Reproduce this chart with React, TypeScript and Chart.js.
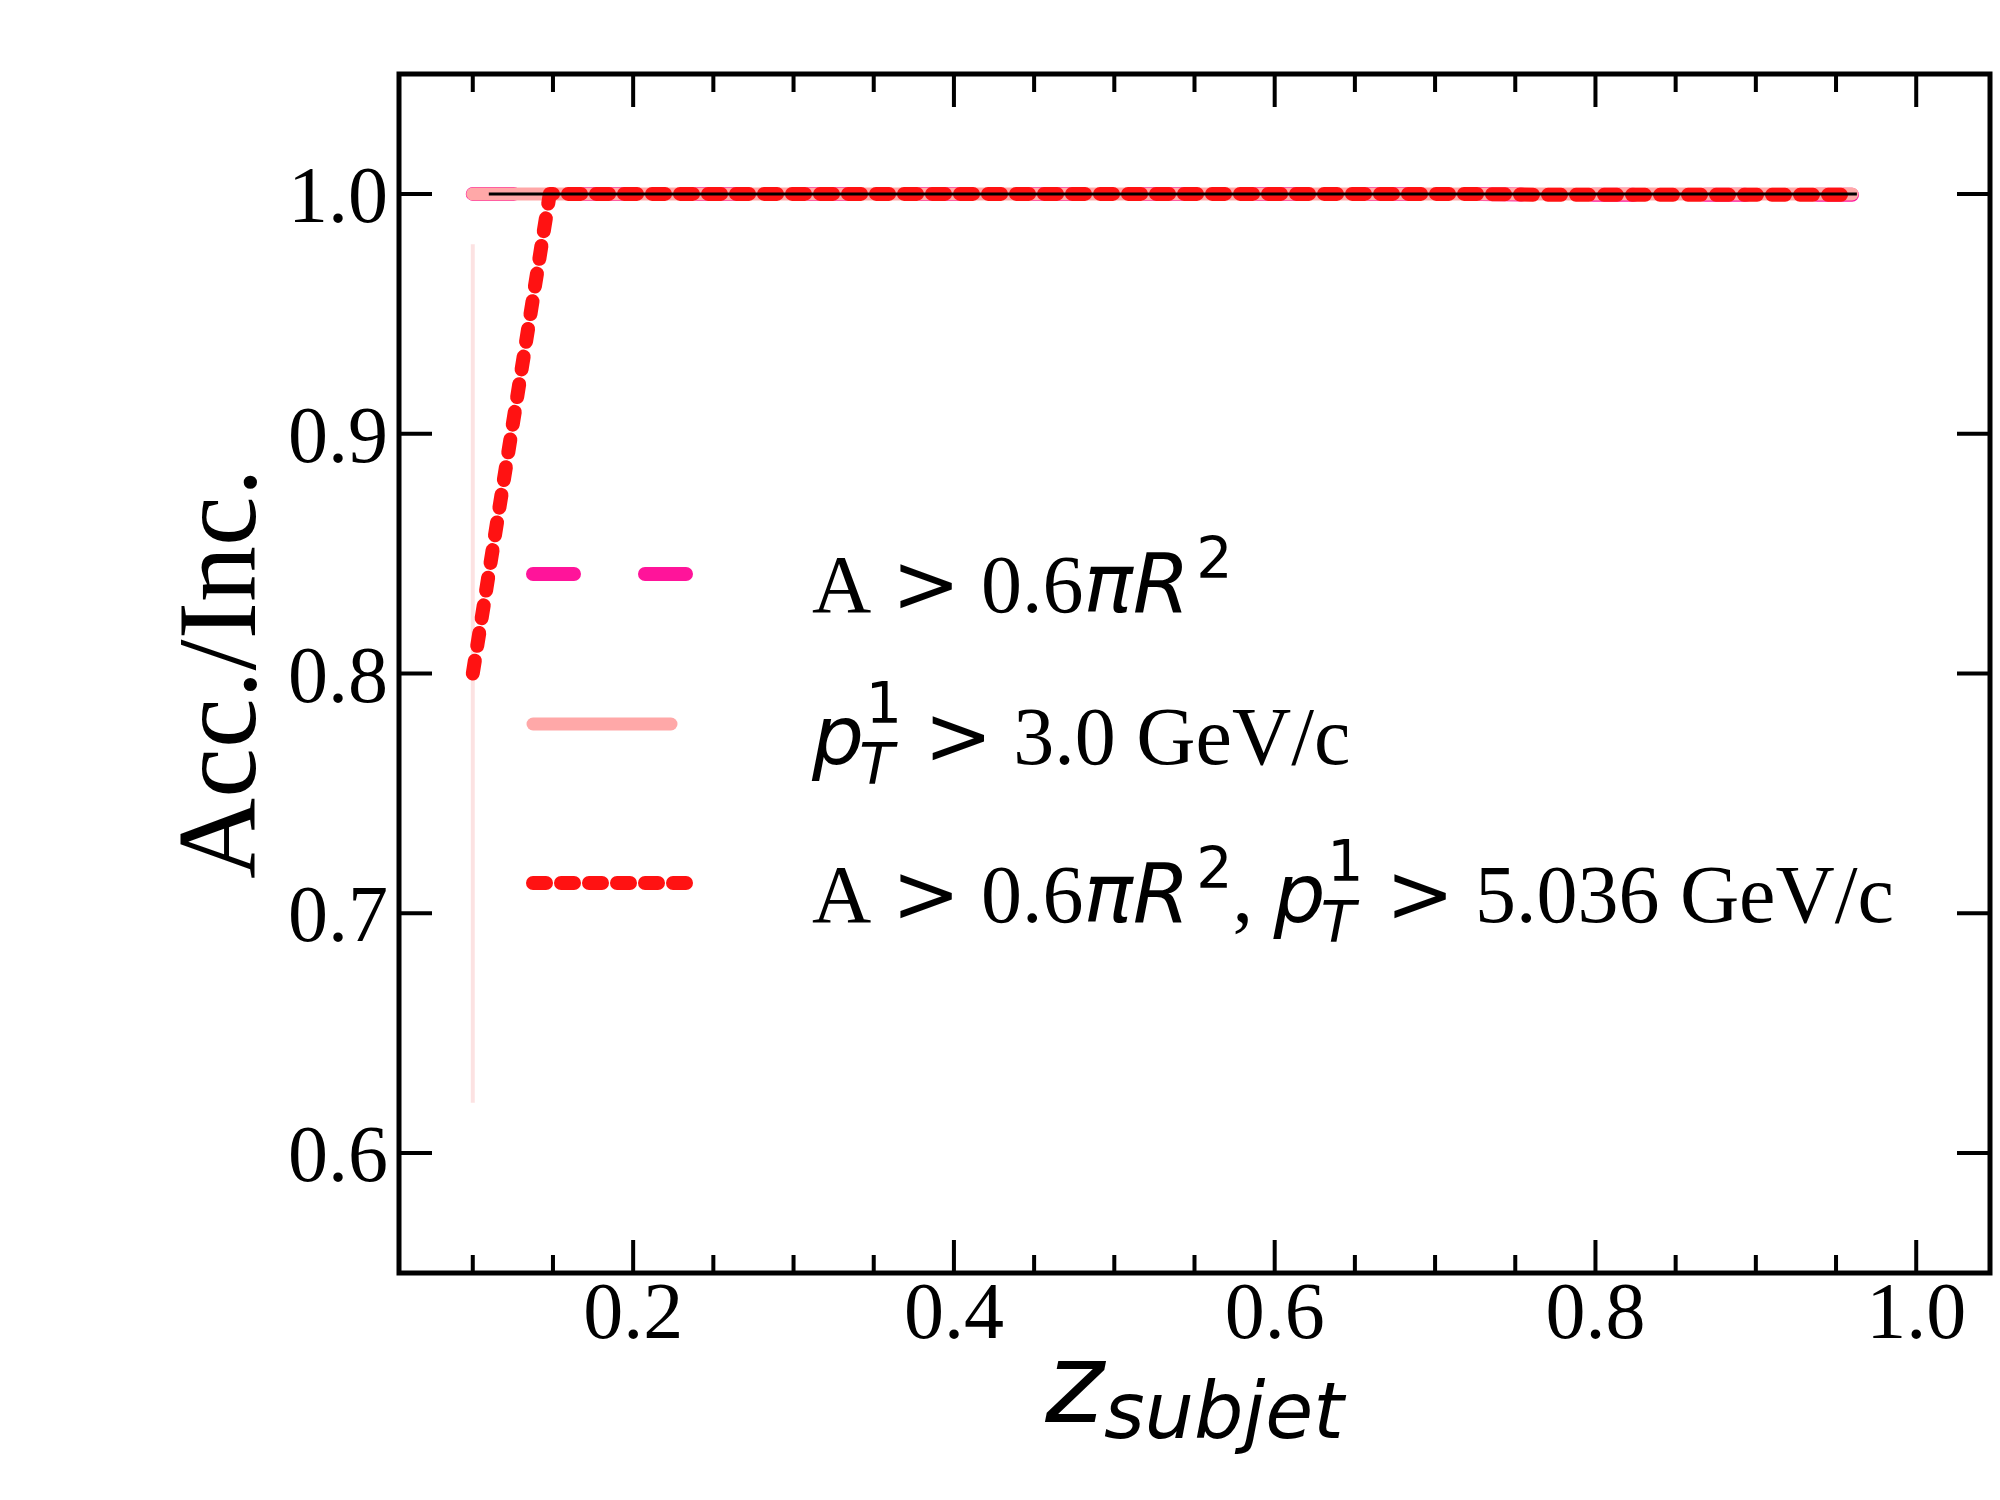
import React, { useEffect, useRef } from 'react';
import { Chart, registerables } from 'chart.js';

Chart.register(...registerables);

// ---- data ----
const zBins = [0.1, 0.148, 0.196, 0.243, 0.291, 0.339, 0.387, 0.434, 0.482, 0.53, 0.578, 0.626, 0.673, 0.721, 0.769, 0.817, 0.864, 0.912, 0.96];
const accArea = [1.0, 1.0, 1.0, 1.0, 1.0, 1.0, 1.0, 1.0, 1.0, 1.0, 1.0, 1.0, 1.0, 1.0, 0.9996, 0.9996, 0.9996, 0.9996, 0.9996];
const accPt3 = [1.0, 1.0, 1.0, 1.0, 1.0, 1.0, 1.0, 1.0, 1.0, 1.0, 1.0, 1.0, 1.0, 1.0, 1.0, 1.0, 1.0, 1.0, 1.0];
const accBoth = [0.8, 1.0, 1.0, 1.0, 1.0, 1.0, 1.0, 1.0, 1.0, 1.0, 1.0, 1.0, 1.0, 1.0, 0.9996, 0.9996, 0.9996, 0.9996, 0.9996];
const accBothErr = [0.179, 0, 0, 0, 0, 0, 0, 0, 0, 0, 0, 0, 0, 0, 0, 0, 0, 0, 0];
const refX = [0.11, 0.963];
const refY = [1.0, 1.0];

const xMajorTicks = [0.2, 0.4, 0.6, 0.8, 1.0];
const xMajorLabels = ['0.2', '0.4', '0.6', '0.8', '1.0'];
const xMinorTicks = [0.1, 0.15, 0.25, 0.3, 0.35, 0.45, 0.5, 0.55, 0.65, 0.7, 0.75, 0.85, 0.9, 0.95];
const yMajorTicks = [0.6, 0.7, 0.8, 0.9, 1.0];
const yMajorLabels = ['0.6', '0.7', '0.8', '0.9', '1.0'];

const X_MIN = 0.054;
const X_MAX = 1.046;
const Y_MIN = 0.55;
const Y_MAX = 1.05;

const COLOR_AREA = '#ff149a';
const COLOR_PT3 = '#ffa8a8';
const COLOR_BOTH = '#ff1212';
const COLOR_ERR = 'rgba(240,110,110,0.2)';

// ---- fonts ----
const F = 80;
const LF = 82;
const SERIF = `${F}px "Liberation Serif"`;
const L_SERIF = `${LF}px "Liberation Serif"`;
const L_SANS = `${LF}px "DejaVu Sans"`;
const L_ITAL = `italic ${LF}px "DejaVu Sans"`;
const L_SCR = `${Math.round(LF * 0.7)}px "DejaVu Sans"`;
const L_SCR_IT = `italic ${Math.round(LF * 0.7)}px "DejaVu Sans"`;

type Run = { t: string; f: string; dy?: number; sup?: string; sub?: string; gap?: number };

const areaRuns: Run[] = [
  { t: 'A ', f: L_SERIF },
  { t: '>', f: L_SANS },
  { t: ' 0.6', f: L_SERIF },
  { t: 'πR', f: L_ITAL },
  { t: '2', f: L_SCR, dy: -0.42 * LF, gap: 0.08 * LF },
];
const ptRuns: Run[] = [
  { t: 'p', f: L_ITAL, sup: '1', sub: 'T' },
  { t: ' ', f: L_SERIF },
  { t: '>', f: L_SANS },
  { t: ' 3.0 GeV/c', f: L_SERIF },
];
const bothRuns: Run[] = [
  ...areaRuns,
  { t: ', ', f: L_SERIF },
  { t: 'p', f: L_ITAL, sup: '1', sub: 'T' },
  { t: ' ', f: L_SERIF },
  { t: '>', f: L_SANS },
  { t: ' 5.036 GeV/c', f: L_SERIF },
];
const legendRuns = [areaRuns, ptRuns, bothRuns];
const legendDatasetIdx = [3, 2, 1];

function drawRuns(ctx: CanvasRenderingContext2D, x: number, y: number, runs: Run[]) {
  let cx = x;
  ctx.textAlign = 'left';
  ctx.textBaseline = 'alphabetic';
  for (const r of runs) {
    if (r.gap) cx += r.gap;
    ctx.font = r.f;
    ctx.fillText(r.t, cx, y + (r.dy || 0));
    cx += ctx.measureText(r.t).width;
    if (r.sup || r.sub) {
      let w = 0;
      if (r.sup) {
        ctx.font = L_SCR;
        ctx.fillText(r.sup, cx + 0.02 * LF, y - 0.5 * LF);
        w = Math.max(w, ctx.measureText(r.sup).width);
      }
      if (r.sub) {
        ctx.font = L_SCR_IT;
        ctx.fillText(r.sub, cx - 0.06 * LF, y + 0.24 * LF);
        w = Math.max(w, ctx.measureText(r.sub).width);
      }
      cx += w + 0.04 * LF;
    }
  }
}

const decorPlugin = {
  id: 'decor',
  beforeDatasetsDraw(chart: any) {
    const ctx = chart.ctx as CanvasRenderingContext2D;
    const xs = chart.scales.x;
    const ys = chart.scales.y;
    ctx.save();
    ctx.strokeStyle = COLOR_ERR;
    ctx.lineWidth = 4;
    for (let i = 0; i < zBins.length; i++) {
      const e = accBothErr[i];
      if (!e) continue;
      const px = xs.getPixelForValue(zBins[i]);
      ctx.beginPath();
      ctx.moveTo(px, ys.getPixelForValue(accBoth[i] - e));
      ctx.lineTo(px, ys.getPixelForValue(accBoth[i] + e));
      ctx.stroke();
    }
    ctx.restore();
  },
  afterDraw(chart: any) {
    const ctx = chart.ctx as CanvasRenderingContext2D;
    const xs = chart.scales.x;
    const ys = chart.scales.y;
    const a = chart.chartArea;
    ctx.save();
    ctx.strokeStyle = '#000';
    ctx.fillStyle = '#000';
    // ticks
    ctx.lineWidth = 4;
    ctx.lineCap = 'butt';
    const MAJ = 33;
    const MIN = 18;
    ctx.beginPath();
    for (const v of xMajorTicks) {
      const p = xs.getPixelForValue(v);
      ctx.moveTo(p, a.bottom); ctx.lineTo(p, a.bottom - MAJ);
      ctx.moveTo(p, a.top); ctx.lineTo(p, a.top + MAJ);
    }
    for (const v of xMinorTicks) {
      const p = xs.getPixelForValue(v);
      ctx.moveTo(p, a.bottom); ctx.lineTo(p, a.bottom - MIN);
      ctx.moveTo(p, a.top); ctx.lineTo(p, a.top + MIN);
    }
    for (const v of yMajorTicks) {
      const p = ys.getPixelForValue(v);
      ctx.moveTo(a.left, p); ctx.lineTo(a.left + MAJ, p);
      ctx.moveTo(a.right, p); ctx.lineTo(a.right - MAJ, p);
    }
    ctx.stroke();
    // frame
    ctx.lineWidth = 5;
    ctx.lineJoin = 'miter';
    ctx.strokeRect(a.left, a.top, a.right - a.left, a.bottom - a.top);

    // tick labels
    ctx.font = SERIF;
    ctx.textBaseline = 'alphabetic';
    ctx.textAlign = 'center';
    xMajorTicks.forEach((v, i) => {
      ctx.fillText(xMajorLabels[i], xs.getPixelForValue(v), a.bottom + 65);
    });
    ctx.textAlign = 'right';
    yMajorTicks.forEach((v, i) => {
      ctx.fillText(yMajorLabels[i], a.left - 11, ys.getPixelForValue(v) + 28);
    });

    // y title
    ctx.save();
    ctx.translate(255, (a.top + a.bottom) / 2);
    ctx.rotate(-Math.PI / 2);
    ctx.font = '112px "Liberation Serif"';
    ctx.textAlign = 'center';
    ctx.fillText('Acc./Inc.', 0, 0);
    ctx.restore();

    // x title
    const mainF = 'italic 112px "DejaVu Sans"';
    const subF = 'italic 78px "DejaVu Sans"';
    ctx.font = mainF;
    const wz = ctx.measureText('z').width;
    ctx.font = subF;
    const ws = ctx.measureText('subjet').width;
    const x0 = (a.left + a.right) / 2 - (wz + ws) / 2;
    ctx.textAlign = 'left';
    ctx.font = mainF;
    ctx.fillText('z', x0, 1422);
    ctx.font = subF;
    ctx.fillText('subjet', x0 + wz, 1438);

    // legend
    const handleX0 = 533;
    const handleX1 = [686, 671, 686];
    const rowY = [574, 724, 883];
    const baseY = [612, 764, 922];
    legendRuns.forEach((runs, k) => {
      const ds = chart.data.datasets[legendDatasetIdx[k]];
      ctx.save();
      ctx.strokeStyle = ds.borderColor;
      ctx.lineWidth = ds.borderWidth;
      ctx.lineCap = 'round';
      ctx.setLineDash(ds.borderDash || []);
      ctx.beginPath();
      ctx.moveTo(handleX0, rowY[k]);
      ctx.lineTo(handleX1[k], rowY[k]);
      ctx.stroke();
      ctx.restore();
      ctx.fillStyle = '#000';
      drawRuns(ctx, 812, baseY[k], runs);
    });
    ctx.restore();
  },
};

export default function App() {
  const canvasRef = useRef<HTMLCanvasElement | null>(null);

  useEffect(() => {
    if (!canvasRef.current) return;
    const pts = (xs: number[], ys: number[]) => xs.map((x, i) => ({ x, y: ys[i] }));
    const common = {
      pointRadius: 0,
      pointHoverRadius: 0,
      tension: 0,
      fill: false,
      borderCapStyle: 'round' as const,
      borderJoinStyle: 'round' as const,
    };
    const chart = new Chart(canvasRef.current, {
      type: 'line',
      data: {
        datasets: [
          { ...common, label: 'ref', data: pts(refX, refY), borderColor: '#000', borderWidth: 3, borderCapStyle: 'butt' },
          { ...common, label: 'A > 0.6πR², pT1 > 5.036 GeV/c', data: pts(zBins, accBoth), borderColor: COLOR_BOTH, borderWidth: 14, borderDash: [13, 15] },
          { ...common, label: 'pT1 > 3.0 GeV/c', data: pts(zBins, accPt3), borderColor: COLOR_PT3, borderWidth: 13 },
          { ...common, label: 'A > 0.6πR²', data: pts(zBins, accArea), borderColor: COLOR_AREA, borderWidth: 14, borderDash: [41, 71] },
        ],
      },
      options: {
        animation: false,
        responsive: true,
        maintainAspectRatio: false,
        devicePixelRatio: 1,
        layout: { autoPadding: false, padding: { left: 0, right: 10, top: 74, bottom: 0 } },
        plugins: { legend: { display: false }, tooltip: { enabled: false } },
        events: [],
        scales: {
          x: {
            type: 'linear',
            min: X_MIN,
            max: X_MAX,
            grid: { display: false, drawTicks: false },
            border: { display: false },
            ticks: { display: false },
            afterBuildTicks: (s: any) => { s.ticks = xMajorTicks.map((v) => ({ value: v })); },
            afterFit: (s: any) => { s.height = 227; },
          },
          y: {
            type: 'linear',
            min: Y_MIN,
            max: Y_MAX,
            grid: { display: false, drawTicks: false },
            border: { display: false },
            ticks: { display: false },
            afterBuildTicks: (s: any) => { s.ticks = yMajorTicks.map((v) => ({ value: v })); },
            afterFit: (s: any) => { s.width = 399; },
          },
        },
      },
      plugins: [decorPlugin],
    } as any);
    return () => chart.destroy();
  }, []);

  return (
    <div style={{ position: 'absolute', left: 0, top: 0, width: 2000, height: 1500, background: '#fff' }}>
      <canvas ref={canvasRef} />
    </div>
  );
}
